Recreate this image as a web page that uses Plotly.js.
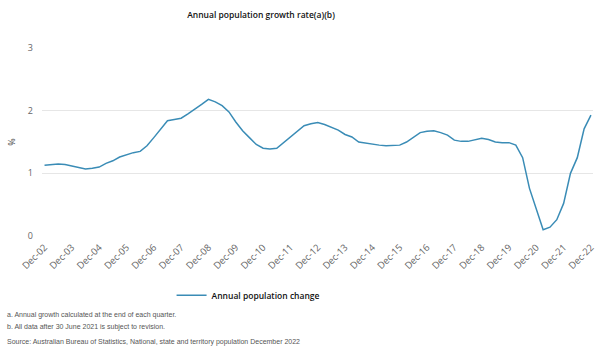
<!DOCTYPE html>
<html>
<head>
<meta charset="utf-8">
<script src="https://cdn.plot.ly/plotly-3.0.1.min.js"></script>
<style>html,body{margin:0;padding:0;background:#fff;}#chart{width:600px;height:358px;}</style>
</head>
<body>
<div id="chart"></div>
<script>
// Quarterly periods from Dec-02 to Dec-22
const years = ['02','03','04','05','06','07','08','09','10','11','12','13','14','15','16','17','18','19','20','21','22'];
const quarterLabels = [];
quarterLabels.push('Dec-02');
for (let y = 3; y <= 22; y++) {
  const yy = String(y).padStart(2, '0');
  quarterLabels.push('Mar-' + yy, 'Jun-' + yy, 'Sep-' + yy, 'Dec-' + yy);
}
const tickLabels = years.map(y => 'Dec-' + y);

// Annual population growth rate (%)
const growthRate = [
  1.13,
  1.14, 1.15, 1.14, 1.12,
  1.10, 1.07, 1.08, 1.10,
  1.16, 1.20, 1.26, 1.30,
  1.33, 1.35, 1.44, 1.57,
  1.70, 1.84, 1.86, 1.88,
  1.95, 2.02, 2.10, 2.18,
  2.14, 2.08, 1.98, 1.82,
  1.68, 1.57, 1.46, 1.40,
  1.39, 1.40, 1.49, 1.58,
  1.67, 1.76, 1.79, 1.81,
  1.78, 1.73, 1.69, 1.62,
  1.58, 1.50, 1.48, 1.47,
  1.45, 1.44, 1.44, 1.45,
  1.50, 1.57, 1.65, 1.67,
  1.68, 1.65, 1.61, 1.53,
  1.51, 1.51, 1.53, 1.56,
  1.54, 1.50, 1.49, 1.49,
  1.45, 1.25, 0.76, 0.42,
  0.10, 0.14, 0.26, 0.52,
  1.00, 1.25, 1.71, 1.93
];
const seriesName = 'Annual population change';

const xIdx = quarterLabels.map((_, i) => i);
const tickVals = tickLabels.map(t => quarterLabels.indexOf(t));

const noteFont = {size: 7, color: '#555', family: 'Liberation Sans, Arial, sans-serif'};

const trace = {
  x: xIdx,
  y: growthRate,
  text: quarterLabels,
  type: 'scatter',
  mode: 'lines',
  name: seriesName,
  line: {color: '#3a8cb6', width: 1.5},
  hovertemplate: '%{text}: %{y}%<extra></extra>'
};

const layout = {
  width: 600,
  height: 358,
  margin: {l: 42, r: 7, t: 48, b: 122},
  paper_bgcolor: '#ffffff',
  plot_bgcolor: '#ffffff',
  font: {family: 'Open Sans, sans-serif', color: '#555'},
  title: {
    text: 'Annual population growth rate(a)(b)',
    font: {size: 8.5, color: '#111', family: 'Open Sans, sans-serif', weight: 600},
    x: 0.435, xref: 'container', xanchor: 'center',
    y: 0.958, yref: 'container', yanchor: 'middle'
  },
  xaxis: {
    range: [-0.37, 80.3],
    tickmode: 'array',
    tickvals: tickVals,
    ticktext: tickLabels,
    tickangle: -45,
    tickfont: {size: 9.5, color: '#666666'},
    ticklabelstandoff: 3,
    showgrid: false,
    zeroline: false,
    showline: false,
    ticks: ''
  },
  yaxis: {
    range: [0, 3],
    tickvals: [0, 1, 2, 3],
    tickfont: {size: 9, color: '#666666'},
    showgrid: true,
    gridcolor: '#e6e6e6',
    gridwidth: 1,
    zeroline: false,
    showline: false,
    ticks: '',
    ticklabelstandoff: 8,
    title: {text: '%', font: {size: 9, color: '#444'}, standoff: 10}
  },
  showlegend: true,
  legend: {
    orientation: 'h',
    x: 0.374, xanchor: 'center',
    y: -0.315, yanchor: 'middle',
    font: {size: 8.5, color: '#111', weight: 600},
    bgcolor: 'rgba(0,0,0,0)'
  },
  annotations: [
    {text: 'a. Annual growth calculated at the end of each quarter.', xref: 'paper', yref: 'paper', x: -0.067, y: -0.42, xanchor: 'left', yanchor: 'middle', showarrow: false, font: noteFont},
    {text: 'b. All data after 30 June 2021 is subject to revision.', xref: 'paper', yref: 'paper', x: -0.067, y: -0.484, xanchor: 'left', yanchor: 'middle', showarrow: false, font: noteFont},
    {text: 'Source: Australian Bureau of Statistics, National, state and territory population December 2022', xref: 'paper', yref: 'paper', x: -0.067, y: -0.564, xanchor: 'left', yanchor: 'middle', showarrow: false, font: noteFont}
  ]
};

Plotly.newPlot('chart', [trace], layout, {displayModeBar: false, staticPlot: true});
</script>
</body>
</html>
